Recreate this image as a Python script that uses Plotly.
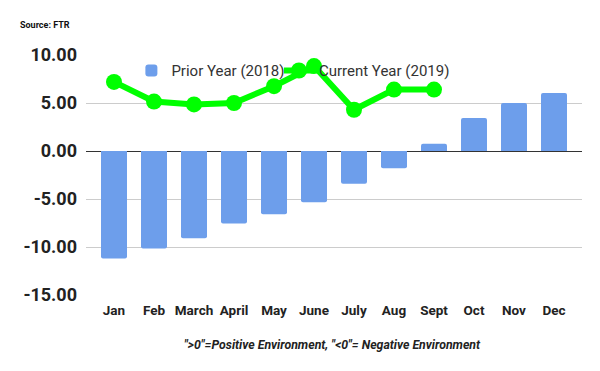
import plotly.graph_objects as go

months = ["Jan", "Feb", "March", "April", "May", "June", "July", "Aug", "Sept", "Oct", "Nov", "Dec"]
prior_2018 = [-11.2, -10.15, -9.1, -7.55, -6.6, -5.35, -3.4, -1.8, 0.75, 3.45, 5.0, 6.05]
current_2019 = [7.2, 5.15, 4.85, 5.0, 6.75, 8.85, 4.3, 6.4, 6.4]
y_ticks = [10, 5, 0, -5, -10, -15]
y_tick_labels = ["10.00", "5.00", "0.00", "-5.00", "-10.00", "-15.00"]

fig = go.Figure()
fig.add_trace(go.Bar(
    x=months, y=prior_2018, name="Prior Year (2018)",
    marker=dict(color="#6d9eeb", cornerradius=2, line=dict(width=0)),
    width=0.65, legend="legend",
))
fig.add_trace(go.Scatter(
    x=months[:len(current_2019)], y=current_2019, name="Current Year (2019)",
    mode="lines+markers",
    line=dict(color="#00ff00", width=6),
    marker=dict(color="#00ff00", size=16),
    legend="legend2",
))

legend_font = dict(size=15, color="#333333", family="Roboto")
fig.update_layout(
    width=600, height=371,
    margin=dict(l=86, r=18, t=55, b=76, autoexpand=False),
    paper_bgcolor="white", plot_bgcolor="white",
    font=dict(family="Roboto", color="#222222"),
    showlegend=True,
    legend=dict(
        orientation="h", x=0.0915, y=1.003, xanchor="left", yanchor="top",
        font=legend_font, bgcolor="rgba(0,0,0,0)", itemwidth=30,
    ),
    legend2=dict(
        orientation="h", x=0.389, y=1.003, xanchor="left", yanchor="top",
        font=legend_font, bgcolor="rgba(0,0,0,0)", itemwidth=30,
    ),
    bargap=0.35,
    xaxis=dict(
        type="category", range=[-0.7, 11.7], automargin=False,
        tickfont=dict(size=13.5, family="Roboto", weight="bold", color="#222222"),
        showgrid=False, showline=False, ticks="", ticklabelstandoff=5,
    ),
    yaxis=dict(
        range=[-15, 10], tickvals=y_ticks, ticktext=y_tick_labels, automargin=False,
        tickfont=dict(size=18, family="Roboto", weight="bold", color="#222222"),
        showgrid=True, gridcolor="#cccccc", gridwidth=1,
        zeroline=True, zerolinecolor="#333333", zerolinewidth=1.2,
        showline=False, ticks="", ticklabelstandoff=8,
    ),
    annotations=[
        dict(text="Source: FTR", xref="paper", yref="paper", x=-0.137, y=1.125,
             xanchor="left", yanchor="middle", showarrow=False,
             font=dict(size=9, family="Roboto", weight="bold", color="#111111")),
        dict(text="\">0\"=Positive Environment, \"<0\"= Negative Environment",
             xref="paper", yref="paper", x=0.497, y=-0.21, xanchor="center", yanchor="middle",
             showarrow=False,
             font=dict(size=12.3, family="Roboto", style="italic", weight="bold", color="#222222")),
    ],
)

fig.write_html("out.html", config={"displayModeBar": False},
               post_script="document.body.style.margin='0';")
